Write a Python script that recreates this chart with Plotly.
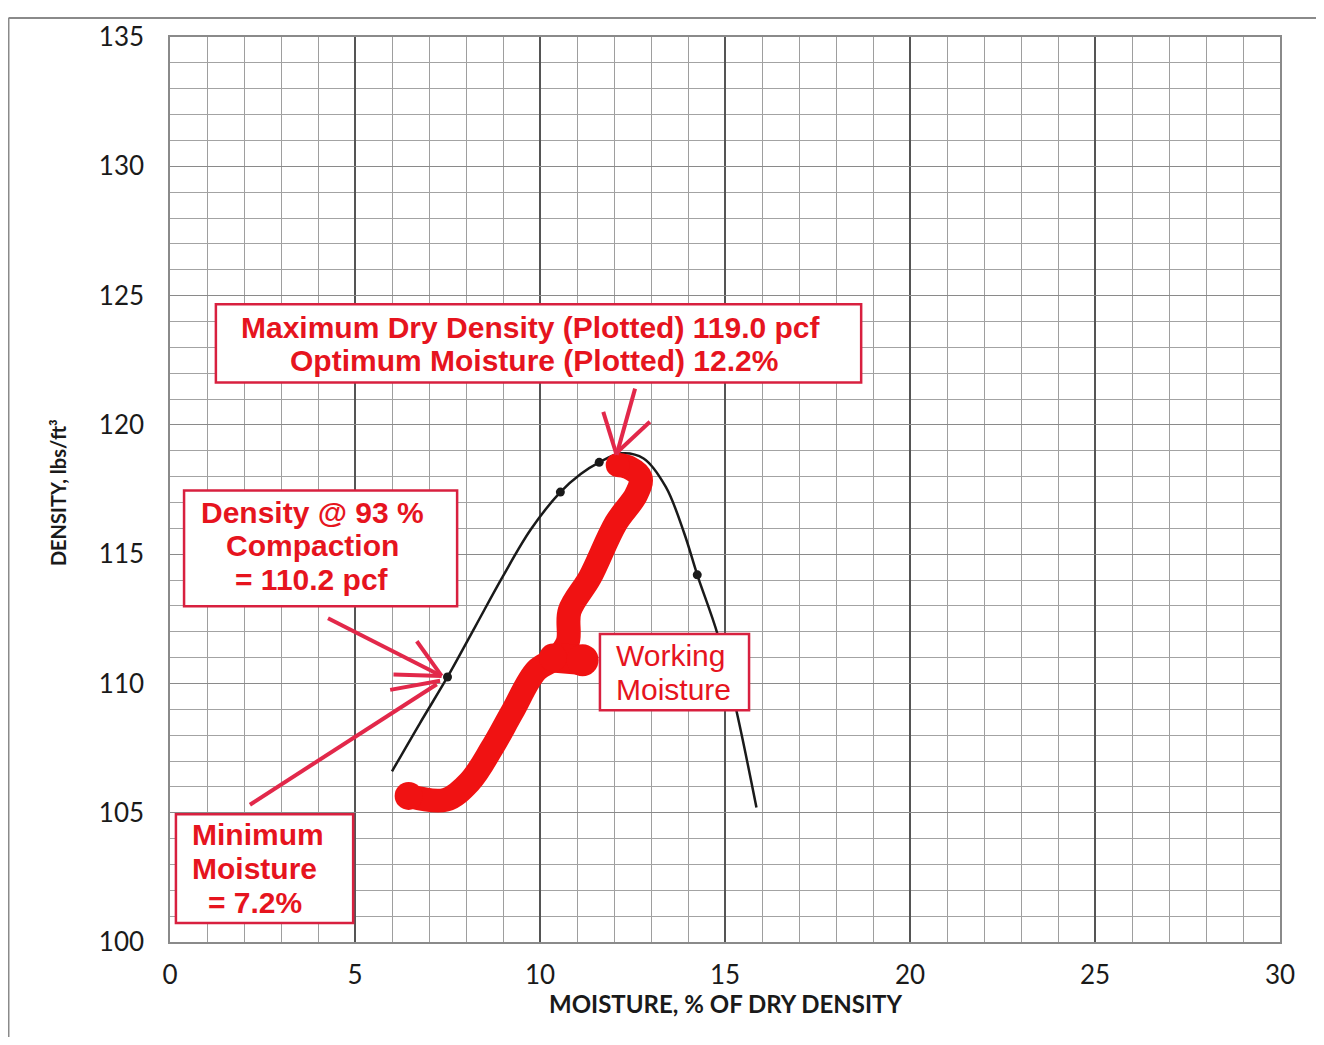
import plotly.graph_objects as go

# Compaction curve: moisture (%) vs dry density (pcf)
curve_moisture = [6.0, 6.75, 7.5, 8.25, 9.0, 9.75, 10.55, 11.1, 11.6, 12.2, 12.8, 13.4, 13.9, 14.25, 14.8, 15.3, 15.85]
curve_density = [106.6, 108.45, 110.25, 112.2, 114.15, 115.95, 117.4, 118.1, 118.55, 118.9, 118.7, 117.6, 115.8, 114.2, 111.9, 109.0, 105.2]

# Test points on the curve
test_moisture = [7.5, 10.55, 11.6, 14.25]
test_density = [110.25, 117.4, 118.55, 114.2]

# Hand drawn working moisture brace
work_moisture = [6.45, 7.45, 8.1, 8.7, 9.25, 9.9, 10.45, 10.75, 10.8, 11.35, 12.05, 12.6, 12.72, 12.4, 12.1]
work_density = [105.65, 105.5, 106.2, 107.5, 108.9, 110.5, 111.0, 111.6, 112.8, 114.1, 116.2, 117.3, 117.95, 118.35, 118.45]
bulge_moisture = [10.35, 11.15]
bulge_density = [111.0, 110.9]

# Pointer strokes (None separates strokes)
min_arrow_x = [4.27, 7.34, None, 6.67, 7.34, None, 6.04, 7.34, None, 5.95, 7.30, None, 2.16, 7.21]
min_arrow_y = [112.52, 110.29, None, 111.63, 110.29, None, 110.35, 110.29, None, 109.75, 110.10, None, 105.31, 109.97]
max_arrow_x = [12.57, 12.07, None, 11.71, 12.07, None, 12.97, 12.11]
max_arrow_y = [121.40, 118.84, None, 120.50, 118.84, None, 120.12, 118.97]

x_ticks = [0, 5, 10, 15, 20, 25, 30]
y_ticks = [100, 105, 110, 115, 120, 125, 130, 135]

TEXT_RED = '#e6141e'
BOX_RED = '#d8203f'
ARROW_RED = '#e2284a'
BRUSH_RED = '#f01212'

fig = go.Figure()

fig.add_trace(go.Scatter(x=curve_moisture, y=curve_density, mode='lines',
                         line=dict(color='#1a1a1a', width=2.5, shape='spline', smoothing=1.0),
                         hoverinfo='skip'))
fig.add_trace(go.Scatter(x=test_moisture, y=test_density, mode='markers',
                         marker=dict(color='#1a1a1a', size=9, line=dict(width=0))))

# thick red brace
fig.add_trace(go.Scatter(x=work_moisture, y=work_density, mode='lines',
                         line=dict(color=BRUSH_RED, width=24, shape='spline')))
fig.add_trace(go.Scatter(x=bulge_moisture, y=bulge_density, mode='lines+markers',
                         line=dict(color=BRUSH_RED, width=30),
                         marker=dict(color=BRUSH_RED, size=[28, 32], opacity=1, line=dict(width=0))))
fig.add_trace(go.Scatter(x=[work_moisture[0], work_moisture[-1]],
                         y=[work_density[0], work_density[-1]], mode='markers',
                         marker=dict(color=BRUSH_RED, size=[28, 24], opacity=1, line=dict(width=0))))

fig.add_trace(go.Scatter(x=min_arrow_x, y=min_arrow_y, mode='lines',
                         line=dict(color=ARROW_RED, width=4)))
fig.add_trace(go.Scatter(x=max_arrow_x, y=max_arrow_y, mode='lines',
                         line=dict(color=ARROW_RED, width=4)))

# boxes (white fill so they sit over the grid and curve)
boxes = [
    (1.24, 124.66, 18.68, 121.64),
    (0.38, 117.46, 7.76, 112.98),
    (11.62, 111.91, 15.65, 108.96),
    (0.16, 104.94, 4.95, 100.73),
]
for x0, y0, x1, y1 in boxes:
    fig.add_shape(type='rect', xref='x', yref='y', x0=x0, y0=y0, x1=x1, y1=y1,
                  fillcolor='white', line=dict(color=BOX_RED, width=2.5), layer='above')

bold = dict(family='Liberation Sans, Arial', size=30, color=TEXT_RED, weight='bold')
plain = dict(family='Liberation Sans, Arial', size=30, color=TEXT_RED)

labels = [
    ('Maximum Dry Density (Plotted) 119.0 pcf', 9.76, 123.78, 'center', bold),
    ('Optimum Moisture (Plotted) 12.2%', 9.84, 122.48, 'center', bold),
    ('Density @ 93 %', 3.84, 116.62, 'center', bold),
    ('Compaction', 3.84, 115.32, 'center', bold),
    ('= 110.2 pcf', 3.84, 114.02, 'center', bold),
    ('Working', 12.0, 111.07, 'left', plain),
    ('Moisture', 12.0, 109.77, 'left', plain),
    ('Minimum', 0.54, 104.14, 'left', bold),
    ('Moisture', 0.54, 102.83, 'left', bold),
    ('= 7.2%', 0.97, 101.53, 'left', bold),
]
for text, x, y, anchor, font in labels:
    fig.add_annotation(x=x, y=y, xref='x', yref='y', text=text, showarrow=False,
                       xanchor=anchor, yanchor='middle', font=font)

# axis titles
fig.add_annotation(x=-0.101, y=0.497, xref='paper', yref='paper', text='DENSITY, lbs/ft³',
                   textangle=-90, showarrow=False, xanchor='center', yanchor='middle',
                   font=dict(family='Lato', size=20, color='#1a1a1a', weight='bold'))
fig.add_annotation(x=0.5, y=-0.068, xref='paper', yref='paper', text='MOISTURE, % OF DRY DENSITY',
                   showarrow=False, xanchor='center', yanchor='middle',
                   font=dict(family='Lato', size=24, color='#1a1a1a', weight='bold'))

# outer page frame
fig.add_shape(type='line', xref='paper', yref='paper', x0=-0.1455, x1=-0.1455, y0=-0.115, y1=1.021,
              line=dict(color='#8a8a8a', width=2))
fig.add_shape(type='line', xref='paper', yref='paper', x0=-0.1455, x1=1.04, y0=1.021, y1=1.021,
              line=dict(color='#8a8a8a', width=2))

fig.update_layout(
    width=1308, height=1029,
    margin=dict(l=162, r=36, t=20, b=95),
    paper_bgcolor='white', plot_bgcolor='white',
    showlegend=False,
    font=dict(family='Lato', color='#1a1a1a'),
)
fig.update_xaxes(
    range=[0, 30], tickvals=x_ticks, ticks='', ticklabelstandoff=9,
    tickfont=dict(family='Lato', size=26, color='#1a1a1a'),
    showgrid=True, gridcolor='#555555', gridwidth=1.5,
    minor=dict(dtick=1, showgrid=True, gridcolor='#9e9e9e', gridwidth=1.3),
    showline=True, linecolor='#8a8a8a', linewidth=1.5, mirror=True, zeroline=False,
)
fig.update_yaxes(
    range=[100, 135], tickvals=y_ticks, ticks='', ticklabelstandoff=19,
    tickfont=dict(family='Lato', size=26, color='#1a1a1a'),
    showgrid=True, gridcolor='#8a8a8a', gridwidth=1.3,
    minor=dict(dtick=1, showgrid=True, gridcolor='#a3a3a3', gridwidth=1.3),
    showline=True, linecolor='#8a8a8a', linewidth=1.5, mirror=True, zeroline=False,
)

fig.write_html("out.html")
